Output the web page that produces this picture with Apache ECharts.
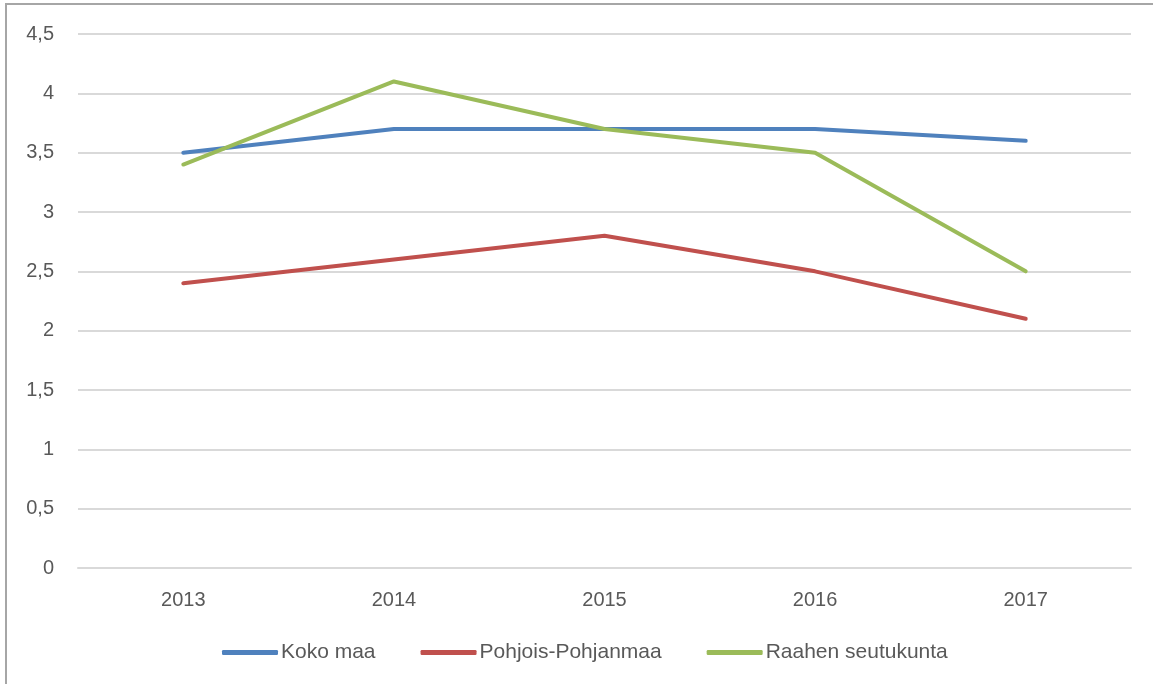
<!DOCTYPE html>
<html>
<head>
<meta charset="utf-8">
<script src="https://cdn.jsdelivr.net/npm/echarts@6/dist/echarts.min.js"></script>
<style>
html,body{margin:0;padding:0;background:#fff;}
#chart{width:1153px;height:684px;}
</style>
</head>
<body>
<div id="chart"></div>
<script>
const categories = ['2013', '2014', '2015', '2016', '2017'];
const kokoMaa = [3.5, 3.7, 3.7, 3.7, 3.6];
const pohjoisPohjanmaa = [2.4, 2.6, 2.8, 2.5, 2.1];
const raahenSeutukunta = [3.4, 4.1, 3.7, 3.5, 2.5];
const seriesNames = ['Koko maa', 'Pohjois-Pohjanmaa', 'Raahen seutukunta'];
const colors = ['#4f81bd', '#c0504d', '#9bbb59'];

const FONT = 'Liberation Sans';
const chart = echarts.init(document.getElementById('chart'));
const mk = (name, data, color) => ({
  name, type: 'line', data, symbol: 'none', smooth: false,
  lineStyle: { width: 4, color, cap: 'round', join: 'round' },
  itemStyle: { color },
  emphasis: { disabled: true }
});
chart.setOption({
  animation: false,
  graphic: [{
    type: 'rect', shape: { x: 6, y: 4, width: 1200, height: 720 },
    style: { fill: 'none', stroke: '#a6a6a6', lineWidth: 2 }, silent: true
  }],
  grid: { left: 78, right: 22, top: 34, bottom: 116 },
  legend: {
    data: seriesNames, bottom: 16, left: 217,
    icon: 'roundRect', itemWidth: 56, itemHeight: 5, itemGap: 45,
    textStyle: { fontFamily: FONT, fontSize: 21, color: '#595959', padding: [0, 0, 0, -2] }
  },
  xAxis: {
    type: 'category', data: categories, boundaryGap: true,
    axisLine: { show: true, lineStyle: { color: '#d9d9d9', width: 2 } },
    axisTick: { show: false },
    axisLabel: { fontFamily: FONT, fontSize: 20, color: '#595959', margin: 22 }
  },
  yAxis: {
    type: 'value', min: 0, max: 4.5, interval: 0.5,
    axisLine: { show: false }, axisTick: { show: false },
    splitLine: { lineStyle: { color: '#d9d9d9', width: 2 } },
    axisLabel: {
      fontFamily: FONT, fontSize: 20, color: '#595959', margin: 24,
      formatter: v => String(v).replace('.', ',')
    }
  },
  series: [
    mk(seriesNames[0], kokoMaa, colors[0]),
    mk(seriesNames[1], pohjoisPohjanmaa, colors[1]),
    mk(seriesNames[2], raahenSeutukunta, colors[2])
  ]
});
</script>
</body>
</html>
